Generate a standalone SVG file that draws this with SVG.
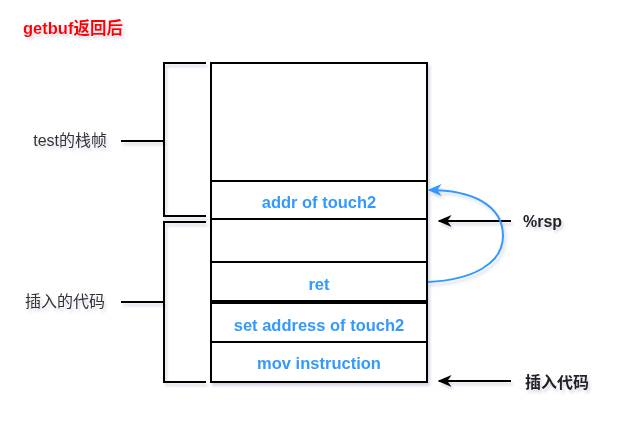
<svg xmlns="http://www.w3.org/2000/svg" width="640" height="434" viewBox="0 0 640 434">
<style>
.box{fill:#fff;stroke:#000;stroke-width:2}
.br{fill:none;stroke:#000;stroke-width:2}
.bt{font-family:"Liberation Sans","Noto Sans CJK SC",sans-serif;font-size:16.5px;font-weight:bold;fill:#3399ff;text-anchor:middle;dominant-baseline:central}
.lbl{font-family:"Liberation Sans","Noto Sans CJK SC",sans-serif;font-size:16px;fill:#333;text-anchor:end;dominant-baseline:central}
.rl{font-family:"Liberation Sans","Noto Sans CJK SC",sans-serif;font-size:16px;font-weight:bold;fill:#222;dominant-baseline:central}
</style>
<defs>
<filter id="sh" x="-10%" y="-10%" width="130%" height="130%">
<feDropShadow dx="2" dy="3" stdDeviation="1.5" flood-color="#8890b0" flood-opacity="0.35"/>
</filter>
<marker id="ak" viewBox="0 0 10 10" refX="9" refY="5" markerWidth="14" markerHeight="12" orient="auto" markerUnits="userSpaceOnUse" preserveAspectRatio="none">
<path d="M0,0 L10,5 L0,10 L3,5 z" fill="#000"/>
</marker>
<marker id="ab" viewBox="0 0 10 10" refX="9" refY="5" markerWidth="14" markerHeight="12" orient="auto" markerUnits="userSpaceOnUse" preserveAspectRatio="none">
<path d="M0,0 L10,5 L0,10 L3,5 z" fill="#3399ff"/>
</marker>
</defs>
<g filter="url(#sh)">
<text x="23" y="28" font-family="Liberation Sans,'Noto Sans CJK SC',sans-serif" font-size="16.5" font-weight="bold" fill="#ff0000" dominant-baseline="central">getbuf返回后</text>
<g id="frame-top"><rect class="box" x="211" y="63" width="216" height="118"/></g>
<g id="addr"><rect class="box" x="211" y="181" width="216" height="38"/><text class="bt" x="319" y="202">addr of touch2</text></g>
<g id="empty"><rect class="box" x="211" y="219" width="216" height="43"/></g>
<g id="ret"><rect class="box" x="211" y="262" width="216" height="39"/><text class="bt" x="319" y="284">ret</text></g>
<g id="setaddr"><rect class="box" x="211" y="303" width="216" height="39"/><text class="bt" x="319" y="325">set address of touch2</text></g>
<g id="mov"><rect class="box" x="211" y="342" width="216" height="40"/><text class="bt" x="319" y="363">mov instruction</text></g>
<g id="bracket-test"><path class="br" d="M206,63 H164 V216 H206 M164,141 H121"/><text class="lbl" x="107" y="140">test的栈帧</text></g>
<g id="bracket-code"><path class="br" d="M206,222 H164 V382 H206 M164,302 H121"/><text class="lbl" x="105" y="301">插入的代码</text></g>
<g id="rsp"><text class="rl" x="523" y="221">%rsp</text></g>
<g id="code"><text class="rl" x="525" y="382">插入代码</text></g>
<g id="connectors">
<path d="M511,221 H439" stroke="#000" stroke-width="2" fill="none" marker-end="url(#ak)"/>
<path d="M511,381 H439" stroke="#000" stroke-width="2" fill="none" marker-end="url(#ak)"/>
<path d="M428,282 C472,280 503,264 503,236 C503,205 472,190 429,190" stroke="#3399ff" stroke-width="2" fill="none" marker-end="url(#ab)"/>
</g>
</g>
</svg>
